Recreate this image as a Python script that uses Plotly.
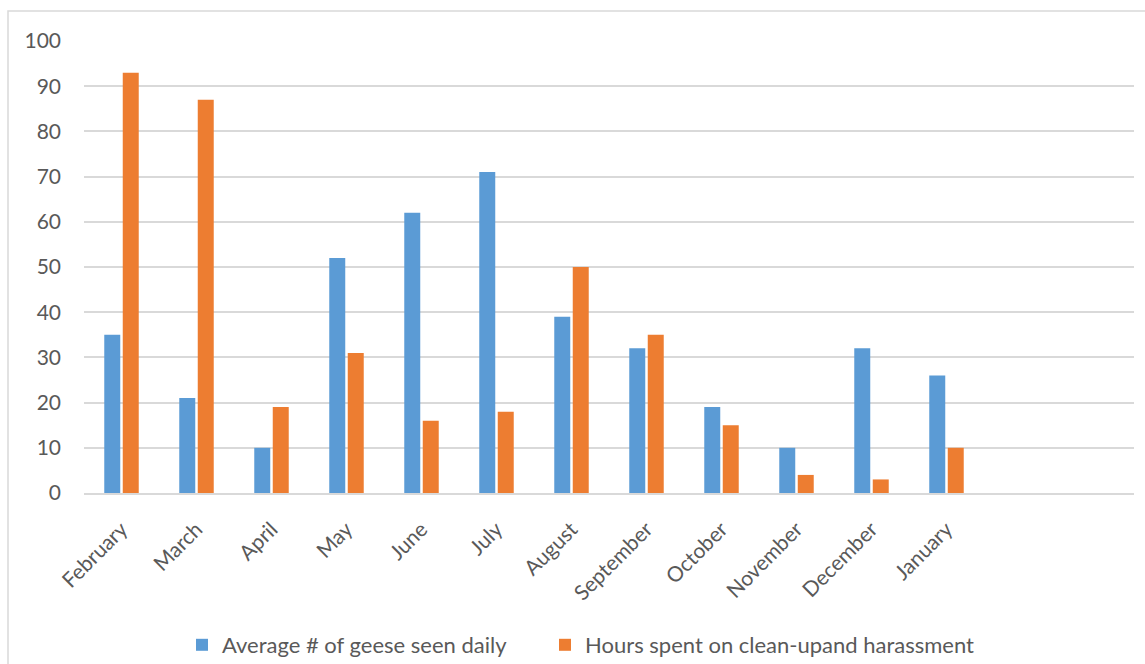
import plotly.graph_objects as go

# Monthly counts and hours
months = ["February", "March", "April", "May", "June", "July", "August",
          "September", "October", "November", "December", "January"]
geese_daily = [35, 21, 10, 52, 62, 71, 39, 32, 19, 10, 32, 26]
cleanup_hours = [93, 87, 19, 31, 16, 18, 50, 35, 15, 4, 3, 10]
y_ticks = [0, 10, 20, 30, 40, 50, 60, 70, 80, 90, 100]

BLUE = "#5B9BD5"
ORANGE = "#ED7D31"
GRID = "#D9D9D9"
TEXT = "#595959"
FONT = "Lato, 'Open Sans', sans-serif"
FS = 21
LEG_FS = 22

x_pos = list(range(len(months)))

fig = go.Figure()
fig.add_trace(go.Bar(x=x_pos, y=geese_daily, name="Average # of geese seen daily",
                     marker=dict(color=BLUE, line=dict(width=0)), legend="legend"))
fig.add_trace(go.Bar(x=x_pos, y=cleanup_hours, name="Hours spent on clean-upand harassment",
                     marker=dict(color=ORANGE, line=dict(width=0)), legend="legend2"))

legend_y = (493 - 645) / 452
legend_common = dict(orientation="h", xanchor="left", y=legend_y, yanchor="middle",
                     font=dict(size=LEG_FS, color=TEXT), itemwidth=30,
                     bgcolor="rgba(0,0,0,0)")

fig.update_layout(
    width=1145, height=664,
    margin=dict(l=84, r=11, t=41, b=171, autoexpand=False),
    paper_bgcolor="white", plot_bgcolor="white",
    barmode="group", bargap=0.507, bargroupgap=0.135,
    font=dict(family=FONT, size=FS, color=TEXT),
    showlegend=True,
    legend=dict(x=(182 - 84) / 1050, **legend_common),
    legend2=dict(x=(545 - 84) / 1050, **legend_common),
    shapes=[dict(type="rect", xref="paper", yref="paper",
                 x0=(8 - 84) / 1050, x1=1.02, y0=-0.4, y1=(493 - 11) / 452,
                 line=dict(color=GRID, width=1.5), fillcolor="rgba(0,0,0,0)", layer="below")],
)

fig.update_xaxes(
    range=[-0.5, 13.5], tickmode="array", tickvals=x_pos, ticktext=months,
    tickangle=-45, showgrid=False, zeroline=False, automargin=False,
    showline=True, linecolor=GRID, linewidth=1.5, ticks="", ticklabelstandoff=14,
    tickfont=dict(size=FS, color=TEXT),
)
fig.update_yaxes(
    range=[0, 100], tickmode="array", tickvals=y_ticks, automargin=False,
    showgrid=True, gridcolor=GRID, gridwidth=1.5, zeroline=False,
    showline=False, ticks="", ticklabelstandoff=22,
    tickfont=dict(size=FS, color=TEXT),
)

fig.write_html("out.html")
